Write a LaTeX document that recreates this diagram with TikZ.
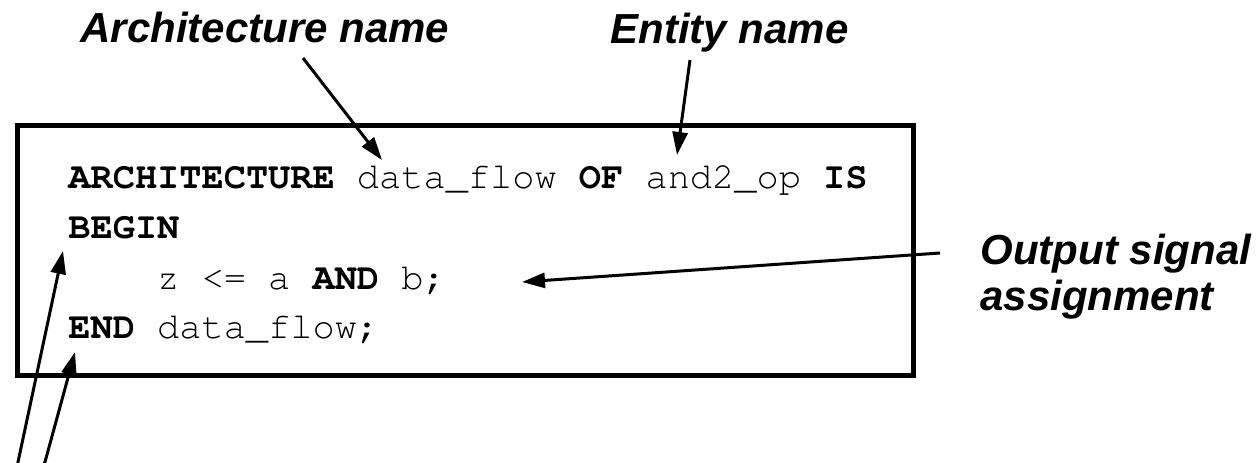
\documentclass[tikz,border=0pt]{standalone}
\usepackage[T1]{fontenc}
\usepackage{fontspec}
\setmainfont{Liberation Sans}
\usetikzlibrary{arrows.meta}
% Courier (URW) for the VHDL listing
\newcommand{\listingfont}{\fontencoding{T1}\fontfamily{pcr}\fontsize{18.5}{18.5}\selectfont}
\begin{document}
\begin{tikzpicture}[x=0.5pt,y=-0.5pt,
  code/.style={font=\listingfont, inner sep=0pt, anchor=base west},
  lbl/.style={font=\fontsize{21}{21}\selectfont\bfseries\itshape, inner sep=0pt, anchor=base west},
  pointer/.style={line width=1.5pt, -{Triangle[length=11.5pt,width=7.5pt]}},
  frame/.style={draw, line width=2.5pt}]
\useasboundingbox (0,0) rectangle (1260,462);

% code frame
\coordinate (boxnw) at (17,125);
\coordinate (boxse) at (913,375);
\draw[frame] (boxnw) rectangle (boxse);

% VHDL architecture body
\node[code] (l1) at (68,188) {\textbf{ARCHITECTURE} data\_flow \textbf{OF} and2\_op \textbf{IS}};
\node[code] (l2) at (68,238) {\textbf{BEGIN}};
\node[code] (l3) at (156.8,289) {z <= a \textbf{AND} b;};
\node[code] (l4) at (68,338) {\textbf{END} data\_flow;};

% callout labels
\node[lbl] (archlbl) at (80,42) {Architecture name};
\node[lbl] (entlbl) at (610,43) {Entity name};
\node[lbl] (outlbl1) at (980,264) {Output signal};
\node[lbl] (outlbl2) at (980,310) {assignment};

% arrow end points
\coordinate (archfrom) at (303,58);
\coordinate (archto) at (382,160);
\coordinate (entfrom) at (690,60);
\coordinate (entto) at (677,155);
\coordinate (outfrom) at (940,253);
\coordinate (outto) at (522,282);
\coordinate (beginfrom) at (16.3,470);
\coordinate (beginto) at (63,251);
\coordinate (endfrom) at (42.8,470);
\coordinate (endto) at (75,352);

\draw[pointer] (archfrom) -- (archto);
\draw[pointer] (entfrom) -- (entto);
\draw[pointer] (outfrom) -- (outto);
\draw[pointer] (beginfrom) -- (beginto);
\draw[pointer] (endfrom) -- (endto);
\end{tikzpicture}
\end{document}
